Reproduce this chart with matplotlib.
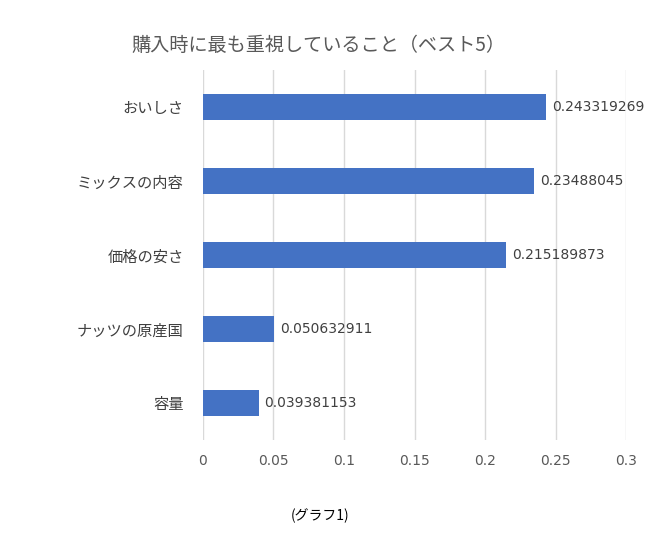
import numpy as np
import matplotlib
matplotlib.use("Agg")
import matplotlib.pyplot as plt

plt.rcParams['font.family'] = ['Noto Sans CJK JP', 'DejaVu Sans']

# data (top to bottom as shown)
categories = ['おいしさ', 'ミックスの内容', '価格の安さ', 'ナッツの原産国', '容量']
values = [0.243319269, 0.23488045, 0.215189873, 0.050632911, 0.039381153]
xticks = [0, 0.05, 0.1, 0.15, 0.2, 0.25, 0.3]
xtick_labels = ['0', '0.05', '0.1', '0.15', '0.2', '0.25', '0.3']

fig = plt.figure(figsize=(6.5, 5.33), dpi=100)
ax = fig.add_axes([0.3123, 0.1745, 0.6508, 0.6942])

pos = np.arange(len(categories))[::-1]
ax.barh(pos, values, height=0.36, color='#4472C4', zorder=3)

for p, v in zip(pos, values):
    ax.text(v + 0.004, p, str(v), va='center', ha='left',
            fontsize=10, color='#404040', family='DejaVu Sans')

ax.set_xlim(0, 0.3)
ax.set_ylim(-0.5, 4.5)
ax.set_xticks(xticks)
ax.set_xticklabels(xtick_labels, fontsize=10, color='#595959', family='DejaVu Sans')
ax.set_yticks(pos)
ax.set_yticklabels(categories, fontsize=11, color='#404040')
ax.tick_params(axis='x', length=0, pad=10)
ax.tick_params(axis='y', length=0, pad=14)

ax.grid(axis='x', color='#D9D9D9', linewidth=1, zorder=0)
for s in ax.spines.values():
    s.set_visible(False)

fig.text(0.49, 0.915, '購入時に最も重視していること（ベスト5）', ha='center', va='center',
         fontsize=13.8, color='#595959')
fig.text(0.492, 0.033, '(グラフ1)', ha='center', va='center', fontsize=10, color='black')

fig.savefig('out.png', dpi=100)
